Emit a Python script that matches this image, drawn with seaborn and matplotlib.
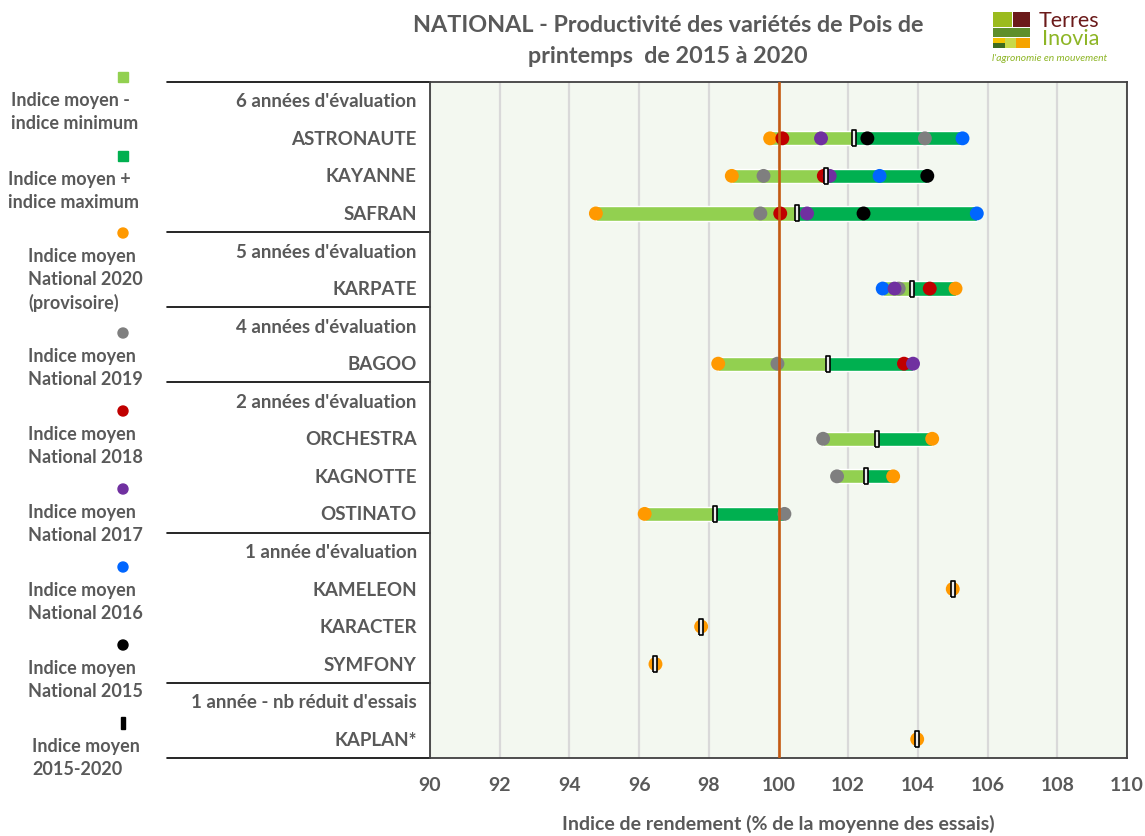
import numpy as np
import pandas as pd
import seaborn as sns
from matplotlib import pyplot as plt
from matplotlib.markers import MarkerStyle
from matplotlib.patches import Rectangle
from matplotlib.transforms import blended_transform_factory

# lignes de l'axe vertical (titres de groupes + variétés)
lignes = ["6 années d'évaluation", "ASTRONAUTE", "KAYANNE", "SAFRAN",
          "5 années d'évaluation", "KARPATE",
          "4 années d'évaluation", "BAGOO",
          "2 années d'évaluation", "ORCHESTRA", "KAGNOTTE", "OSTINATO",
          "1 année d'évaluation", "KAMELEON", "KARACTER", "SYMFONY",
          "1 année - nb réduit d'essais", "KAPLAN*"]
groupes = [0, 4, 6, 8, 12, 16]

varietes = ["ASTRONAUTE", "KAYANNE", "SAFRAN", "KARPATE", "BAGOO", "ORCHESTRA",
            "KAGNOTTE", "OSTINATO", "KAMELEON", "KARACTER", "SYMFONY", "KAPLAN*"]
nan = np.nan
i2020 = [99.76, 98.66, 94.76, 105.08, 98.27, 104.41, 103.29, 96.16, 105.0, 97.78, 96.47, 103.98]
i2019 = [104.2, 99.57, 99.48, 103.45, 99.97, 101.28, 101.68, 100.17, nan, nan, nan, nan]
i2018 = [100.11, 101.3, 100.05, 104.34, 103.6, nan, nan, nan, nan, nan, nan, nan]
i2017 = [101.22, 101.47, 100.82, 103.33, 103.86, nan, nan, nan, nan, nan, nan, nan]
i2016 = [105.28, 102.9, 105.69, 102.99, nan, nan, nan, nan, nan, nan, nan, nan]
i2015 = [102.55, 104.27, 102.44, nan, nan, nan, nan, nan, nan, nan, nan, nan]
moyenne = [102.18, 101.36, 100.54, 103.84, 101.42, 102.84, 102.5, 98.17, 105.0, 97.78, 96.47, 103.98]

annees = ["2020", "2019", "2016", "2015", "2018", "2017"]  # ordre de dessin
couleurs = {"2020": "#FF9900", "2019": "#7F7F7F", "2018": "#C00000",
            "2017": "#7030A0", "2016": "#0066FF", "2015": "#000000"}

GRIS = "#595959"
W, H = 1145, 837

sns.set_style("white")
plt.rcParams['font.family'] = ['Lato', 'DejaVu Sans']
plt.rcParams['font.weight'] = 'bold'

df = pd.DataFrame({"variete": varietes, "2020": i2020, "2019": i2019, "2018": i2018,
                   "2017": i2017, "2016": i2016, "2015": i2015, "moyenne": moyenne})
df["y"] = df["variete"].map({lab: i for i, lab in enumerate(lignes)})
df["mini"] = df[annees].min(axis=1)
df["maxi"] = df[annees].max(axis=1)

fig = plt.figure(figsize=(W / 100, H / 100), dpi=100)
ax = fig.add_axes([430 / W, 1 - 759 / H, (1127 - 430) / W, (759 - 83) / H])
ax.set_facecolor("#F3F8F0")

# barres min -> moyenne et moyenne -> max
ax.barh(df["y"], df["moyenne"] - df["mini"], left=df["mini"], height=0.38,
        color="#92D050", zorder=2)
ax.barh(df["y"], df["maxi"] - df["moyenne"], left=df["moyenne"], height=0.38,
        color="#00B050", zorder=2)

# points annuels
pts = df.melt(id_vars=["variete", "y"], value_vars=annees, var_name="annee",
              value_name="indice").dropna()
pts["annee"] = pd.Categorical(pts["annee"], categories=annees, ordered=True)
pts = pts.sort_values("annee")
sns.scatterplot(data=pts, x="indice", y="y", hue="annee", palette=couleurs,
                s=100, linewidth=0, legend=False, ax=ax, zorder=3)

ax.axvline(100, color="#C55A11", lw=1.9, zorder=4)

# indice moyen 2015-2020
barre = MarkerStyle([(-0.22, -1), (0.22, -1), (0.22, 1), (-0.22, 1), (-0.22, -1)])
sns.scatterplot(data=df, x="moyenne", y="y", marker=barre, s=120, color="#EDEDED",
                edgecolor="black", linewidth=1.2, ax=ax, zorder=5)

ax.set_xlim(90, 110)
ax.set_ylim(len(lignes) - 0.5, -0.5)
ax.set_xticks(range(90, 111, 2))
ax.set_yticks([])
ax.set_ylabel("")
ax.grid(axis="x", color="#D9D9D9", lw=1.6)
ax.set_axisbelow(True)
ax.tick_params(axis="x", length=0, labelsize=14, labelcolor=GRIS, pad=13)
for s in ax.spines.values():
    s.set_color("#404040")
    s.set_linewidth(1.3)
ax.set_xlabel("Indice de rendement (% de la moyenne des essais)", fontsize=14,
              fontweight="bold", color=GRIS, labelpad=15)

# libellés et séparateurs de gauche
trans = blended_transform_factory(ax.transAxes, ax.transData)
for i, lab in enumerate(lignes):
    ax.text(-0.019, i, lab, ha="right", va="center", fontsize=13.5, color=GRIS,
            transform=trans)
for yv in [g - 0.5 for g in groupes] + [len(lignes) - 0.5]:
    ax.plot([(167 - 430) / 697, 0], [yv, yv], color="black", lw=1.2,
            transform=trans, clip_on=False)

fig.text(668 / W, 1 - 41 / H,
         "NATIONAL - Productivité des variétés de Pois de\nprintemps  de 2015 à 2020",
         ha="center", va="center", fontsize=16.8, color=GRIS, linespacing=1.62)

# légende et logo (coordonnées en pixels)
ov = fig.add_axes([0, 0, 1, 1])
ov.set_xlim(0, W)
ov.set_ylim(H, 0)
ov.axis("off")

leg = [("sq", "#92D050", 78, 11, "Indice moyen -\nindice minimum"),
       ("sq", "#00B050", 157, 8, "Indice moyen +\nindice maximum"),
       ("o", "#FF9900", 234, 28, "Indice moyen\nNational 2020\n(provisoire)"),
       ("o", "#7F7F7F", 334, 28, "Indice moyen\nNational 2019"),
       ("o", "#C00000", 412, 28, "Indice moyen\nNational 2018"),
       ("o", "#7030A0", 490, 28, "Indice moyen\nNational 2017"),
       ("o", "#0066FF", 568, 28, "Indice moyen\nNational 2016"),
       ("o", "#000000", 646, 28, "Indice moyen\nNational 2015"),
       ("bar", "#000000", 724, 32, "Indice moyen\n2015-2020")]
for kind, col, yk, xt, txt in leg:
    if kind == "sq":
        ov.add_patch(Rectangle((118, yk - 5), 10, 10, color=col))
    elif kind == "o":
        ov.add_patch(plt.Circle((123, yk), 5, color=col))
    else:
        ov.add_patch(Rectangle((121, yk - 6), 4, 12, color=col))
    ov.text(xt, yk + 14, txt, ha="left", va="top", fontsize=13, color=GRIS,
            linespacing=1.4)

logo = [(992.7, 12.7, 19, 15.6, "#9BBB1E"), (1012.7, 12.7, 17.3, 15.6, "#6B1A1A"),
        (992.7, 29.3, 37.3, 9, "#5E8F2B"), (992.7, 39.3, 12.3, 4.7, "#F2C200"),
        (992.7, 44, 12.3, 5.3, "#3E6B1F"), (1005, 39.3, 11, 10, "#C8D94A"),
        (1016, 39.3, 14, 10, "#F5A300")]
for x0, y0, w, h, c in logo:
    ov.add_patch(Rectangle((x0, y0), w, h, color=c, lw=0))
ov.text(1039, 21, "Terres", fontsize=15.5, fontweight="normal", color="#6B1A1A",
        ha="left", va="center")
ov.text(1099, 39, "Inovia", fontsize=15.5, fontweight="normal", color="#8DB525",
        ha="right", va="center")
ov.text(992, 58, "l'agronomie en mouvement", fontsize=7.4, fontweight="normal",
        style="italic", color="#8DB525", ha="left", va="center")

fig.savefig("out.png", dpi=100)
